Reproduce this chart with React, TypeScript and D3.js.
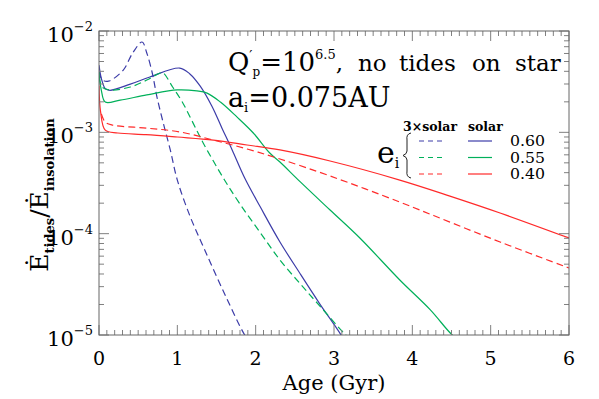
import { useRef, useEffect } from "react";
import * as d3 from "d3";

// [age in Gyr, Edot_tides / Edot_insolation]
const solarE60 = [
  [0, 4.6e-3], [0.03, 3.4e-3], [0.08, 2.7e-3], [0.14, 2.6e-3], [0.4, 2.99e-3],
  [0.65, 3.52e-3], [1.03, 4.31e-3], [1.16, 3.77e-3], [1.29, 2.87e-3], [1.44, 1.82e-3],
  [1.57, 1.1e-3], [1.7, 6.7e-4], [1.86, 3.54e-4], [2.06, 1.83e-4], [2.31, 8.28e-5],
  [2.57, 4.0e-5], [2.82, 2.02e-5], [3.09, 1.0e-5], [3.2, 7e-6],
];
const triE60 = [
  [0, 4.0e-3], [0.04, 3.3e-3], [0.12, 3.2e-3], [0.31, 4.12e-3], [0.43, 6.07e-3],
  [0.55, 7.79e-3], [0.61, 6.07e-3], [0.68, 3.85e-3], [0.74, 2.23e-3], [0.82, 1.24e-3],
  [0.91, 6.7e-4], [1.0, 3.38e-4], [1.16, 1.5e-4], [1.35, 6.9e-5], [1.61, 2.48e-5],
  [1.86, 1.0e-5], [1.95, 8e-6],
];
const solarE55 = [
  [0, 3.94e-3], [0.03, 2.6e-3], [0.08, 1.99e-3], [0.27, 2.08e-3], [0.61, 2.34e-3],
  [1.0, 2.62e-3], [1.25, 2.56e-3], [1.38, 2.44e-3], [1.55, 1.99e-3], [1.76, 1.42e-3],
  [1.97, 9.85e-4], [2.18, 6.25e-4], [2.31, 5.09e-4], [2.57, 3.24e-4], [2.95, 1.71e-4],
  [3.33, 9.06e-5], [3.84, 3.49e-5], [4.23, 1.77e-5], [4.51, 1.0e-5], [4.6, 9e-6],
];
const triE55 = [
  [0, 3.5e-3], [0.04, 2.8e-3], [0.14, 2.62e-3], [0.4, 2.8e-3], [0.61, 3.28e-3],
  [0.78, 3.85e-3], [0.82, 3.85e-3], [0.94, 2.8e-3], [1.07, 1.95e-3], [1.2, 1.24e-3],
  [1.33, 7.85e-4], [1.46, 5.21e-4], [1.61, 3.31e-4], [1.8, 1.96e-4], [2.06, 1.02e-4],
  [2.31, 5.5e-5], [2.57, 3.19e-5], [2.82, 1.93e-5], [3.15, 1.0e-5], [3.25, 8.5e-6],
];
const solarE40 = [
  [0, 2.9e-3], [0.02, 1.6e-3], [0.08, 1.05e-3], [0.24, 9.85e-4], [0.6, 9.5e-4],
  [1.0, 8.99e-4], [1.46, 8.39e-4], [1.89, 7.5e-4], [2.31, 6.7e-4], [2.95, 5.21e-4],
  [3.84, 3.38e-4], [4.48, 2.35e-4], [5.12, 1.6e-4], [6.0, 9.06e-5],
];
const triE40 = [
  [0.03, 1.52e-3], [0.08, 1.26e-3], [0.17, 1.18e-3], [0.61, 1.1e-3], [1.03, 1.01e-3],
  [1.46, 8.39e-4], [1.89, 6.85e-4], [2.31, 5.46e-4], [2.95, 3.71e-4], [3.84, 2.05e-4],
  [4.48, 1.3e-4], [5.12, 8.28e-5], [6.0, 4.58e-5],
];

const eccLabels = ["0.60", "0.55", "0.40"];
const colors = ["#3c3ca8", "#00b05a", "#ff2a2a"];
const yMajor = [1e-2, 1e-3, 1e-4, 1e-5];
const yExp = ["−2", "−3", "−4", "−5"];
const xMajor = [0, 1, 2, 3, 4, 5, 6];
const titleWords = ["no", "tides", "on", "star"];
const titleWordX = [358, 399, 472, 515];

const series = [
  { data: solarE60, color: colors[0], dash: null },
  { data: triE60, color: colors[0], dash: "7,4" },
  { data: solarE55, color: colors[1], dash: null },
  { data: triE55, color: colors[1], dash: "7,4" },
  { data: solarE40, color: colors[2], dash: null },
  { data: triE40, color: colors[2], dash: "7,4" },
];

const font = "DejaVu Serif";

export default function App() {
  const axRef = useRef(null);
  let width = 599,
    height = 399,
    margin = { left: 99, top: 31, right: 30, bottom: 64 };
  let w = width - margin.left - margin.right,
    h = height - margin.top - margin.bottom;

  let xScale = d3.scaleLinear().domain([0, 6]).range([0, w]),
    yScale = d3.scaleLog().domain([1e-5, 1e-2]).range([h, 0]);

  useEffect(() => {
    const g = d3.select(axRef.current);
    g.selectAll("*").remove();
    const minorX = d3.range(0, 60.5).map((i) => i / 10);
    const minorY = [];
    [1e-5, 1e-4, 1e-3].forEach((d) => {
      for (let k = 2; k < 10; k++) minorY.push(d * k);
    });
    const tick = "#808080";
    // ticks on all four sides, like the original
    minorX.forEach((v, i) => {
      const len = i % 10 === 0 ? 10 : 5;
      const x = xScale(v);
      g.append("line").attr("x1", x).attr("x2", x).attr("y1", h).attr("y2", h - len).attr("stroke", tick);
      g.append("line").attr("x1", x).attr("x2", x).attr("y1", 0).attr("y2", len).attr("stroke", tick);
    });
    yMajor.concat(minorY).forEach((v, i) => {
      const len = i < yMajor.length ? 10 : 5;
      const y = yScale(v);
      g.append("line").attr("x1", 0).attr("x2", len).attr("y1", y).attr("y2", y).attr("stroke", tick);
      g.append("line").attr("x1", w).attr("x2", w - len).attr("y1", y).attr("y2", y).attr("stroke", tick);
    });
    g.append("rect")
      .attr("width", w)
      .attr("height", h)
      .attr("fill", "none")
      .attr("stroke", "#666");
  }, []);

  let line = d3
    .line()
    .x((d) => xScale(d[0]))
    .y((d) => yScale(d[1]))
    .curve(d3.curveCatmullRom.alpha(0.5));

  return (
    <svg width={width} height={height} fontFamily={font} style={{ display: "block", position: "absolute", left: 0, top: 0 }}>
      <rect width={width} height={height} fill="white" />
      <defs>
        <clipPath id="plotclip">
          <rect width={w} height={h} />
        </clipPath>
      </defs>
      <g transform={`translate(${margin.left}, ${margin.top})`}>
        <g clipPath="url(#plotclip)">
          {series.map((s, i) => (
            <path
              key={i}
              d={line(s.data)}
              fill="none"
              stroke={s.color}
              strokeWidth={1.2}
              strokeDasharray={s.dash || undefined}
            />
          ))}
        </g>
        <g ref={axRef} />
        {yMajor.map((v, i) => (
          <text key={i} x={-6} y={yScale(v) + 11} textAnchor="end" fontSize={21}>
            10<tspan dy={-11} fontSize={13}>{yExp[i]}</tspan>
          </text>
        ))}
        {xMajor.map((v) => (
          <text key={v} x={xScale(v)} y={h + 30} textAnchor="middle" fontSize={19}>
            {v}
          </text>
        ))}
        <text x={w / 2} y={h + 55} textAnchor="middle" fontSize={21}>
          Age (Gyr)
        </text>
      </g>
      {/* annotation */}
      <text x={228} y={71} fontSize={26}>
        Q<tspan dy={-10} fontSize={14}>′</tspan>
        <tspan dy={15} fontSize={12}>p</tspan>
        <tspan dy={-5}>=10</tspan>
        <tspan dy={-12} fontSize={13}>6.5</tspan>
        <tspan dy={12} fontSize={23}>,</tspan>
      </text>
      {titleWords.map((wd, i) => (
        <text key={wd} x={titleWordX[i]} y={71} fontSize={23}>
          {wd}
        </text>
      ))}
      <text x={228} y={107} fontSize={27}>
        a<tspan dy={5} fontSize={13}>i</tspan>
        <tspan dy={-5}>=0.075AU</tspan>
      </text>
      {/* legend */}
      <text x={403} y={131} fontSize={12.5} fontWeight="bold">
        3×solar
      </text>
      <text x={468} y={131} fontSize={12.5} fontWeight="bold">
        solar
      </text>
      <text x={377} y={163} fontSize={30}>
        e<tspan dy={5} fontSize={14}>i</tspan>
      </text>
      <path
        d="M411,133 Q406,134 407,140 L407,151 Q407,154 403,155.5 Q407,157 407,160 L407,171 Q406,177 411,178"
        fill="none"
        stroke="#222"
        strokeWidth={1}
      />
      {eccLabels.map((lab, i) => {
        const y = 141 + i * 16.5;
        return (
          <g key={lab}>
            <line x1={419} x2={444} y1={y} y2={y} stroke={colors[i]} strokeWidth={1.2} strokeDasharray="5,4" />
            <line x1={468} x2={492} y1={y} y2={y} stroke={colors[i]} strokeWidth={1.2} />
            <text x={510} y={y + 5} fontSize={14} textLength={35} lengthAdjust="spacingAndGlyphs">
              {lab}
            </text>
          </g>
        );
      })}
      <text transform="translate(48, 195) rotate(-90)" textAnchor="middle" fontSize={25}>
        Ė<tspan dy={6} fontSize={13} fontWeight="bold">tides</tspan>
        <tspan dy={-6}>/Ė</tspan>
        <tspan dy={6} fontSize={13} fontWeight="bold">insolation</tspan>
      </text>
    </svg>
  );
}
